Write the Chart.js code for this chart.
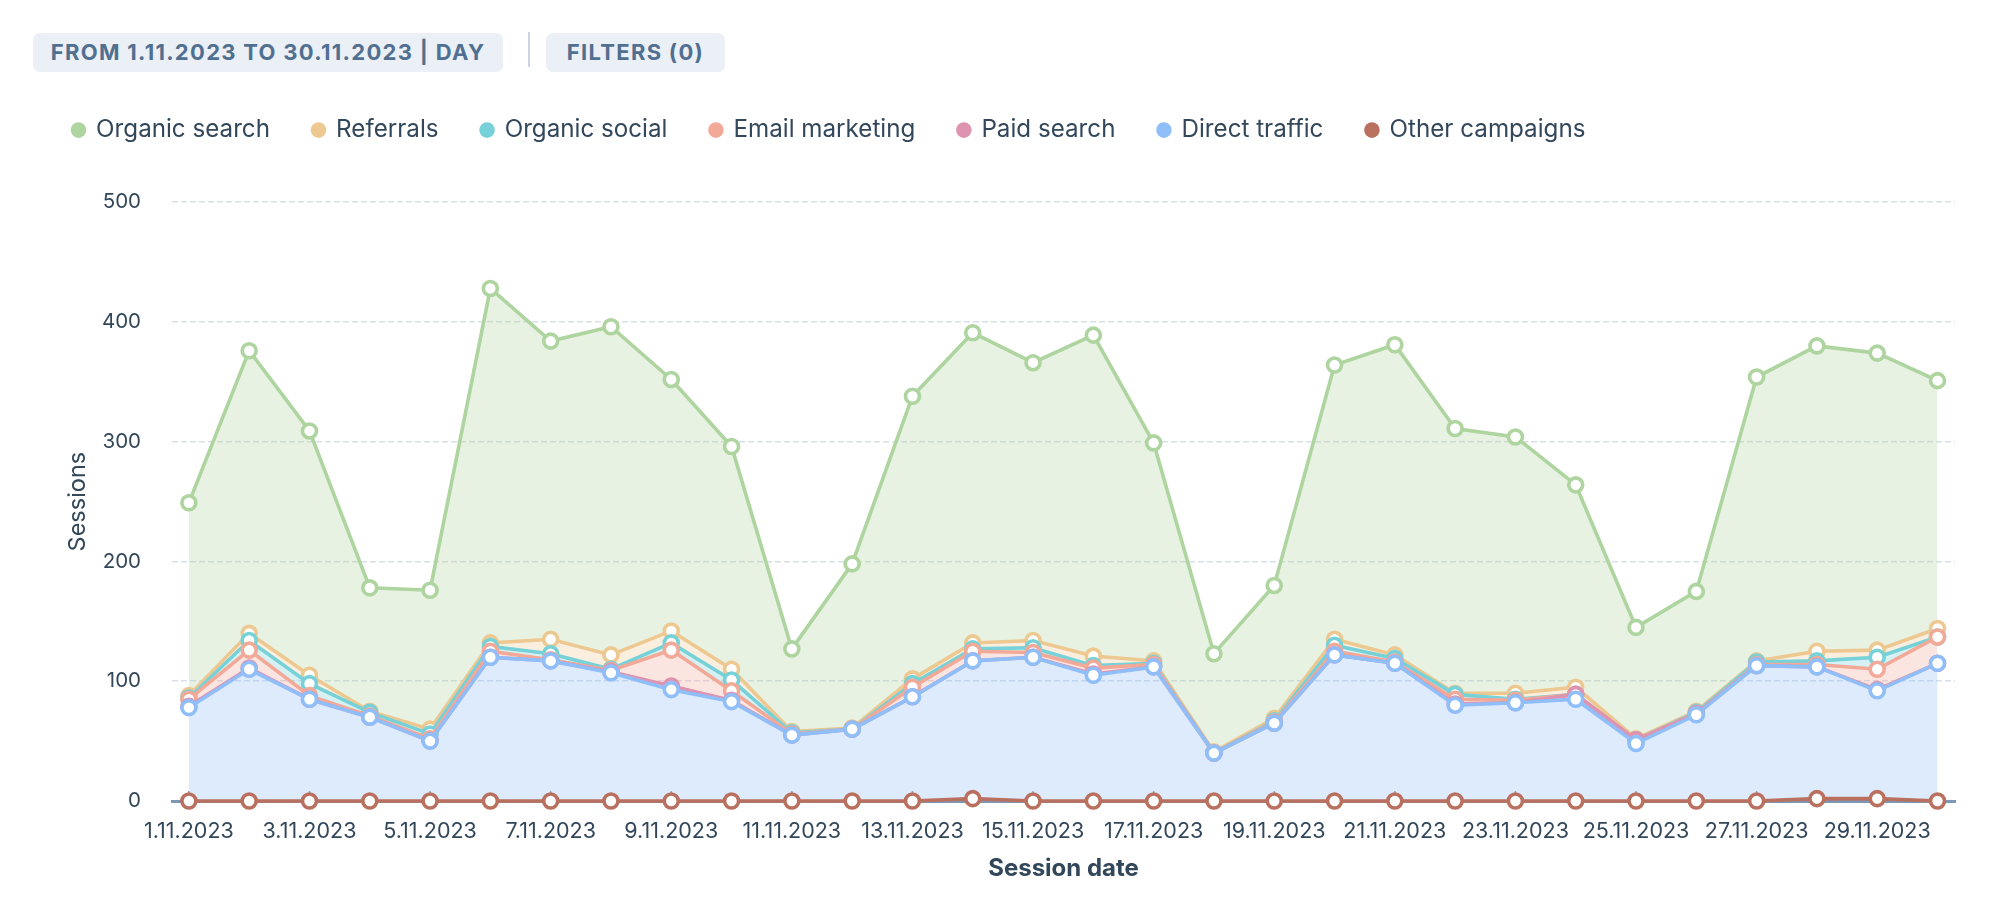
<!DOCTYPE html>
<html>
<head>
<meta charset="utf-8">
<title>Sessions by source</title>
<script src="https://cdn.jsdelivr.net/npm/chart.js@4/dist/chart.umd.min.js"></script>
<style>
    html, body { margin: 0; padding: 0; background: #fff; }
    body { width: 2004px; height: 922px; position: relative; overflow: hidden; font-family: Inter, sans-serif; }
    #chartBox { position: absolute; left: 0; top: 0; width: 2004px; height: 922px; }
    .pill {
        position: absolute; top: 33px; height: 39px; line-height: 39px; background: #eaf0f6;
        color: #516f90; font-weight: 700; font-size: 22px; letter-spacing: 1.3px;
        border-radius: 7px; text-align: center; white-space: nowrap;
    }
    #sep { position: absolute; left: 528px; top: 32px; width: 2px; height: 35px; background: #cbd6e2; }
</style>
</head>
<body>
<div id="chartBox"><canvas id="sessionsChart" width="2004" height="922"></canvas></div>
<div class="pill" style="left:33px;width:470px">FROM 1.11.2023 TO 30.11.2023 | DAY</div>
<div id="sep"></div>
<div class="pill" style="left:546px;width:179px">FILTERS (0)</div>
<script>
// Days on the x axis
const categories = ['1.11.2023','2.11.2023','3.11.2023','4.11.2023','5.11.2023','6.11.2023','7.11.2023','8.11.2023','9.11.2023','10.11.2023',
    '11.11.2023','12.11.2023','13.11.2023','14.11.2023','15.11.2023','16.11.2023','17.11.2023','18.11.2023','19.11.2023','20.11.2023',
    '21.11.2023','22.11.2023','23.11.2023','24.11.2023','25.11.2023','26.11.2023','27.11.2023','28.11.2023','29.11.2023','30.11.2023'];
const yTicks = [0, 100, 200, 300, 400, 500];

// Sessions per source (stacked)
const organicSearch = [161,236,204,103,116,296,249,274,210,186,69,137,236,259,232,268,182,82,111,229,259,221,214,169,93,100,237,255,248,207];
const referrals = [2,6,7,1,4,3,12,12,10,9,1,1,4,5,6,8,2,1,2,5,3,1,5,6,1,1,1,8,6,7];
const organicSocial = [1,8,10,3,4,4,5,1,6,9,1,0,3,2,4,2,1,0,1,5,3,4,1,0,0,1,2,3,10,0];
const emailMarketing = [6,15,3,1,2,5,1,1,30,8,1,0,8,8,4,5,2,0,1,3,1,4,2,0,0,0,1,2,17,22];
const paidSearch = [1,1,0,0,0,0,0,1,3,1,0,0,0,0,0,1,0,0,0,0,0,1,0,4,3,1,0,0,1,0];
const directTraffic = [78,110,85,70,50,120,117,107,93,83,55,60,87,115,120,105,112,40,65,122,115,80,82,85,48,72,113,110,90,115];
const otherCampaigns = [0,0,0,0,0,0,0,0,0,0,0,0,0,2,0,0,0,0,0,0,0,0,0,0,0,0,0,2,2,0];

const TEXT_COLOR = '#33475b';
const FONT = 'Inter, sans-serif';

const makeSerie = (label, values, color, fill) => ({
    label: label,
    data: values.map((v, i) => ({ x: i, y: v })),
    borderColor: color,
    backgroundColor: color + '4d',
    borderWidth: 3.6,
    tension: 0,
    fill: fill,
    clip: false,
    pointRadius: 7,
    pointBorderWidth: 3.6,
    pointBackgroundColor: '#ffffff',
    pointBorderColor: color
});

// Little ticks that go up from the baseline
const upTicks = {
    id: 'upTicks',
    beforeDatasetsDraw(chart) {
        const x = chart.scales.x, c = chart.ctx, base = chart.chartArea.bottom;
        c.save();
        c.strokeStyle = '#7c98b6';
        c.lineWidth = 1.5;
        x.ticks.forEach(t => {
            const px = x.getPixelForValue(t.value);
            c.beginPath(); c.moveTo(px, base); c.lineTo(px, base - 10); c.stroke();
        });
        c.restore();
    }
};

// Room between the legend and the plot
const legendGap = {
    id: 'legendGap',
    beforeInit(chart) {
        const fitOriginal = chart.legend.fit;
        chart.legend.fit = function () {
            fitOriginal.call(this);
            this.height += 50;
        };
    }
};

new Chart(document.getElementById('sessionsChart'), {
    type: 'line',
    plugins: [upTicks, legendGap],
    data: {
        datasets: [
            makeSerie('Other campaigns', otherCampaigns, '#b9705f', 'origin'),
            makeSerie('Direct traffic', directTraffic, '#8fbef8', '-1'),
            makeSerie('Paid search', paidSearch, '#de93b0', '-1'),
            makeSerie('Email marketing', emailMarketing, '#f2a997', '-1'),
            makeSerie('Organic social', organicSocial, '#76d2d8', '-1'),
            makeSerie('Referrals', referrals, '#eec891', '-1'),
            makeSerie('Organic search', organicSearch, '#aed49f', '-1')
        ]
    },
    options: {
        responsive: false,
        animation: false,
        devicePixelRatio: 1,
        layout: { padding: { left: 30, right: 49, top: 75, bottom: 36 } },
        plugins: {
            tooltip: { enabled: false },
            legend: {
                position: 'top',
                align: 'start',
                reverse: true,
                labels: {
                    font: { family: FONT, size: 24.2 },
                    color: TEXT_COLOR,
                    usePointStyle: true,
                    pointStyle: 'circle',
                    boxWidth: 11,
                    boxHeight: 11,
                    padding: 43,
                    generateLabels(chart) {
                        return chart.data.datasets.map((d, i) => ({
                            text: d.label,
                            fillStyle: d.borderColor,
                            strokeStyle: d.borderColor,
                            lineWidth: 0,
                            pointStyle: 'circle',
                            fontColor: TEXT_COLOR,
                            datasetIndex: i
                        }));
                    }
                }
            }
        },
        scales: {
            x: {
                type: 'linear',
                min: -0.28,
                max: 29.29,
                afterBuildTicks(scale) {
                    scale.ticks = categories.map((c, i) => ({ value: i })).filter(t => t.value % 2 === 0);
                },
                afterFit(scale) { scale.height = 85; },
                grid: { display: false },
                border: { display: true, color: '#7c98b6', width: 3 },
                ticks: {
                    autoSkip: false,
                    maxRotation: 0,
                    padding: 10,
                    color: TEXT_COLOR,
                    font: { family: FONT, size: 21.5 },
                    callback: v => categories[v]
                },
                title: {
                    display: true,
                    text: 'Session date',
                    color: TEXT_COLOR,
                    font: { family: FONT, size: 24, weight: '700' },
                    padding: { top: 10, bottom: 3 }
                }
            },
            y: {
                stacked: true,
                min: yTicks[0],
                max: yTicks[yTicks.length - 1],
                afterFit(scale) { scale.width = 142; },
                grid: { color: '#d9dfe8', lineWidth: 1.5, drawTicks: false },
                border: { display: false, dash: [6, 3] },
                ticks: {
                    stepSize: 100,
                    padding: 31,
                    color: TEXT_COLOR,
                    font: { family: FONT, size: 20.5 }
                },
                title: {
                    display: true,
                    text: 'Sessions',
                    color: TEXT_COLOR,
                    font: { family: FONT, size: 23.5 },
                    padding: { top: 34, bottom: 0 }
                }
            }
        }
    }
});
</script>
</body>
</html>
